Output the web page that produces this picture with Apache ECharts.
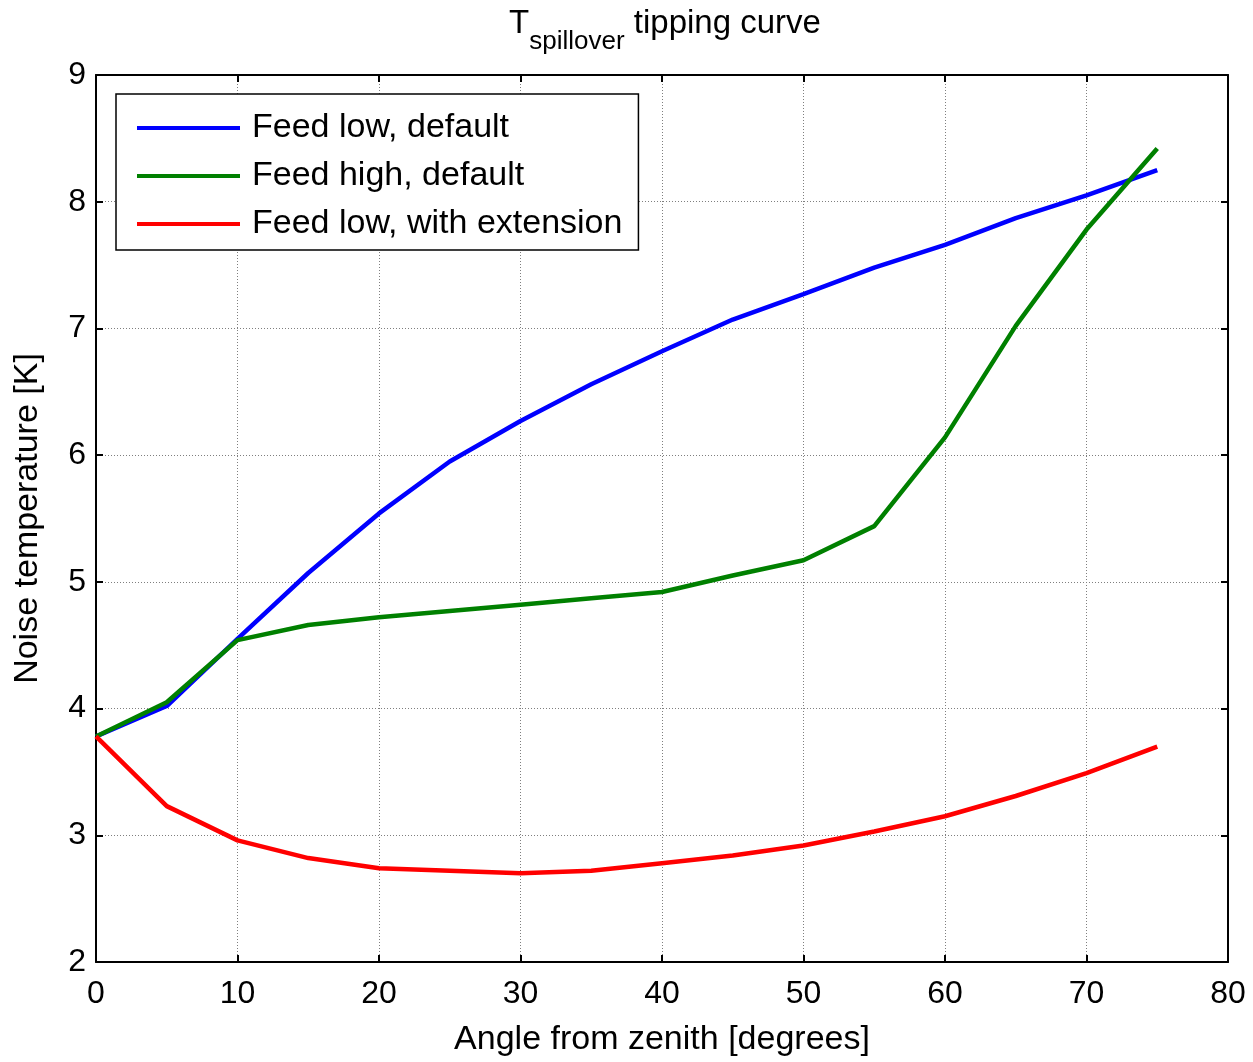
<!DOCTYPE html>
<html>
<head>
<meta charset="utf-8">
<script src="https://cdn.jsdelivr.net/npm/echarts@6/dist/echarts.min.js"></script>
<style>
  html, body { margin: 0; padding: 0; background: #fff; }
  #chart { width: 1253px; height: 1062px; }
</style>
</head>
<body>
<div id="chart"></div>
<script>
// angle from zenith, degrees
var angles = [0, 5, 10, 15, 20, 25, 30, 35, 40, 45, 50, 55, 60, 65, 70, 75];
var feedLowDefault = [3.78, 4.02, 4.55, 5.07, 5.54, 5.95, 6.27, 6.56, 6.82, 7.07, 7.27, 7.48, 7.66, 7.87, 8.05, 8.25];
var feedHighDefault = [3.78, 4.05, 4.54, 4.66, 4.72, 4.77, 4.82, 4.87, 4.92, 5.05, 5.17, 5.44, 6.14, 7.02, 7.78, 8.42];
var feedLowExtension = [3.78, 3.23, 2.96, 2.82, 2.74, 2.72, 2.70, 2.72, 2.78, 2.84, 2.92, 3.03, 3.15, 3.31, 3.49, 3.70];
var seriesNames = ['Feed low, default', 'Feed high, default', 'Feed low, with extension'];

function pairs(ys) {
  return angles.map(function (a, i) { return [a, ys[i]]; });
}

var font = 'Arial, "Liberation Sans", sans-serif';
var gridLine = { show: true, lineStyle: { color: '#7f7f7f', type: [1, 2], width: 1 } };
var axisLine = { show: true, onZero: false, lineStyle: { color: '#000', width: 2 } };
var tick = { show: true, inside: true, length: 7, lineStyle: { color: '#000', width: 2 } };

var myChart = echarts.init(document.getElementById('chart'));
var option = {
  animation: false,
  title: {
    text: '{t|T}{s|spillover}{t| tipping curve}',
    left: 660,
    textAlign: 'center',
    top: 2,
    textStyle: {
      fontWeight: 'normal',
      rich: {
        t: { fontFamily: font, fontSize: 33, fontWeight: 'normal', color: '#000', lineHeight: 36, verticalAlign: 'top' },
        s: { fontFamily: font, fontSize: 26, fontWeight: 'normal', color: '#000', padding: [22, 0, 0, 0], verticalAlign: 'top' }
      }
    }
  },
  grid: { left: 96, right: 25, top: 75, bottom: 94, containLabel: false },
  legend: {
    orient: 'vertical',
    left: 116,
    top: 94,
    data: seriesNames,
    icon: 'rect',
    itemWidth: 103,
    itemHeight: 4,
    itemGap: 14,
    padding: [17, 16, 9, 21],
    borderColor: '#000',
    borderWidth: 1.5,
    backgroundColor: '#fff',
    textStyle: { fontFamily: font, fontSize: 34, color: '#000', lineHeight: 34, padding: [0, 0, 0, 7] }
  },
  xAxis: [{
    type: 'value',
    position: 'bottom',
    min: 0, max: 80, interval: 10,
    name: 'Angle from zenith [degrees]',
    nameLocation: 'middle',
    nameGap: 61,
    nameTextStyle: { fontFamily: font, fontSize: 34, color: '#000' },
    axisLine: axisLine,
    axisTick: tick,
    axisLabel: { fontFamily: font, fontSize: 32, color: '#000', margin: 16 },
    splitLine: gridLine
  }, {
    type: 'value',
    position: 'top',
    min: 0, max: 80, interval: 10,
    axisLine: axisLine,
    axisTick: tick,
    axisLabel: { show: false },
    splitLine: { show: false }
  }],
  yAxis: [{
    type: 'value',
    position: 'left',
    min: 2, max: 9, interval: 1,
    name: 'Noise temperature [K]',
    nameLocation: 'middle',
    nameGap: 51,
    nameTextStyle: { fontFamily: font, fontSize: 34, color: '#000' },
    axisLine: axisLine,
    axisTick: tick,
    axisLabel: { fontFamily: font, fontSize: 32, color: '#000', margin: 10 },
    splitLine: gridLine
  }, {
    type: 'value',
    position: 'right',
    min: 2, max: 9, interval: 1,
    axisLine: axisLine,
    axisTick: tick,
    axisLabel: { show: false },
    splitLine: { show: false }
  }],
  series: [{
    name: seriesNames[0],
    type: 'line',
    data: pairs(feedLowDefault),
    symbol: 'none',
    lineStyle: { color: '#0000ff', width: 4.5 },
    itemStyle: { color: '#0000ff' }
  }, {
    name: seriesNames[1],
    type: 'line',
    data: pairs(feedHighDefault),
    symbol: 'none',
    lineStyle: { color: '#008000', width: 4.5 },
    itemStyle: { color: '#008000' }
  }, {
    name: seriesNames[2],
    type: 'line',
    data: pairs(feedLowExtension),
    symbol: 'none',
    lineStyle: { color: '#ff0000', width: 4.5 },
    itemStyle: { color: '#ff0000' }
  }]
};
myChart.setOption(option);
</script>
</body>
</html>
